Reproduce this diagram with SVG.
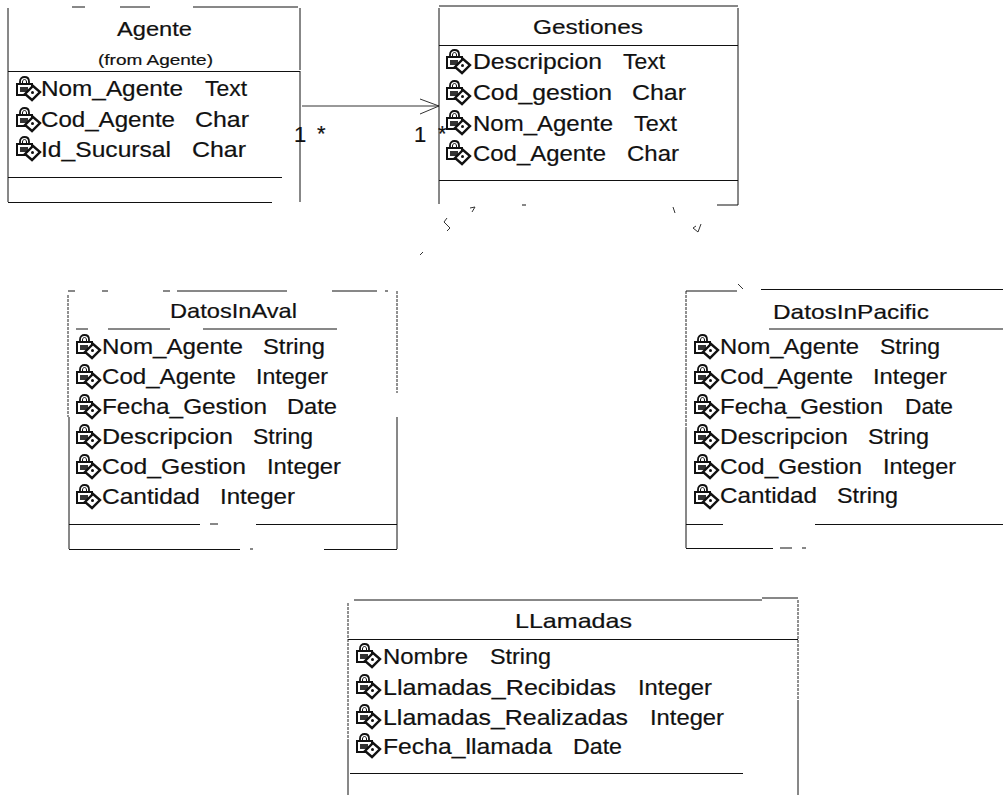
<svg xmlns="http://www.w3.org/2000/svg" width="1003" height="795" viewBox="0 0 1003 795">
<style>
text{font-family:"Liberation Sans",Arial,sans-serif;fill:#111;stroke:#111;stroke-width:.2}
.r{font-size:22px}
.t{font-size:21px}
.s{font-size:15px}
.n{font-size:22px}
.l{fill:none;stroke:#111;stroke-width:1}
.d{fill:none;stroke:#222;stroke-width:1;stroke-dasharray:3 1}
.c{fill:none;stroke:#333;stroke-width:1}
</style>
<defs>
<g id="k">
<path d="M5 8V5.500C5 2.500 7 1 9.500 1S14 2.500 14 5.500V8" fill="none" stroke="#111" stroke-width="1.800"/>
<path d="M7.500 8V6C7.500 4.500 8.300 3.500 9.500 3.500S11.500 4.500 11.500 6V8" fill="none" stroke="#111" stroke-width="1"/>
<rect x="2" y="8" width="15" height="11" fill="#fff" stroke="#111" stroke-width="2"/>
<rect x="5" y="11" width="8" height="5" fill="#333"/>
<path d="M10 18L18 10L25 16L17 24Z" fill="#fff" stroke="#111" stroke-width="2.400"/>
<circle cx="17.500" cy="16.500" r="1.500" fill="#111"/>
</g>
</defs>
<g id="connectors">
<path class="c" d="M302 106H439M420 99L439 106L420 114"/>
<path class="c" d="M447 218L444 222L450 228L447 231M472 212L475 207L470 208M420 255L423 252M673 207L675 213M696 226L693 228L698 232L701 224M738 284L743 289"/>
<text x="294" y="142" class="n">1</text>
<text x="317" y="141" class="n">*</text>
<text x="414" y="142" class="n">1</text>
<text x="438" y="141" class="n">*</text>
</g>
<g id="agente">
<path class="l" d="M72 7H85M120 7H150M193 7H298M8 8V202M300 8V70M300 71V202M8 71.500H300M8 177.500H282M8 202.500H272"/>
<text x="117" y="36" class="t" textLength="75" lengthAdjust="spacingAndGlyphs">Agente</text>
<text x="98" y="65" class="s" textLength="115" lengthAdjust="spacingAndGlyphs">(from Agente)</text>
<use href="#k" x="15" y="76"/><use href="#k" x="15" y="107"/><use href="#k" x="15" y="136"/>
<text y="96" class="r"><tspan x="41" textLength="142" lengthAdjust="spacingAndGlyphs">Nom_Agente</tspan> <tspan x="205" textLength="42" lengthAdjust="spacingAndGlyphs">Text</tspan></text>
<text y="127" class="r"><tspan x="41" textLength="134" lengthAdjust="spacingAndGlyphs">Cod_Agente</tspan> <tspan x="195" textLength="54" lengthAdjust="spacingAndGlyphs">Char</tspan></text>
<text y="157" class="r"><tspan x="41" textLength="130" lengthAdjust="spacingAndGlyphs">Id_Sucursal</tspan> <tspan x="192" textLength="54" lengthAdjust="spacingAndGlyphs">Char</tspan></text>
</g>
<g id="gestiones">
<path class="l" d="M439 6H738M439 8V204M738 8V205M439 45.500H738M439 180.500H738M522 205H526M717 205H738"/>
<text x="533" y="34" class="t" textLength="110" lengthAdjust="spacingAndGlyphs">Gestiones</text>
<use href="#k" x="445" y="49"/><use href="#k" x="445" y="80"/><use href="#k" x="445" y="110"/><use href="#k" x="445" y="140"/>
<text y="69" class="r"><tspan x="473" textLength="129" lengthAdjust="spacingAndGlyphs">Descripcion</tspan> <tspan x="623" textLength="42" lengthAdjust="spacingAndGlyphs">Text</tspan></text>
<text y="100" class="r"><tspan x="473" textLength="139" lengthAdjust="spacingAndGlyphs">Cod_gestion</tspan> <tspan x="632" textLength="54" lengthAdjust="spacingAndGlyphs">Char</tspan></text>
<text y="131" class="r"><tspan x="473" textLength="140" lengthAdjust="spacingAndGlyphs">Nom_Agente</tspan> <tspan x="634" textLength="43" lengthAdjust="spacingAndGlyphs">Text</tspan></text>
<text y="161" class="r"><tspan x="473" textLength="133" lengthAdjust="spacingAndGlyphs">Cod_Agente</tspan> <tspan x="627" textLength="52" lengthAdjust="spacingAndGlyphs">Char</tspan></text>
</g>
<g id="datosinaval">
<path class="l" d="M68 291H75M102 291H108M163 291H170M177 291H287M332 291H377M385 291H388M76 329H88M108 329H170M203 329H337M69 524.500H200M210 524H218M256 524.500H397M69 549.500H240M250 549H253M324 549.500H397M69 417V549M397 417V549"/>
<path class="d" d="M68 295V417M397 291V393"/>
<text x="170" y="318" class="t" textLength="127" lengthAdjust="spacingAndGlyphs">DatosInAval</text>
<use href="#k" x="75" y="334"/><use href="#k" x="75" y="364"/><use href="#k" x="75" y="394"/><use href="#k" x="75" y="424"/><use href="#k" x="75" y="454"/><use href="#k" x="75" y="484"/>
<text y="354" class="r"><tspan x="102" textLength="141" lengthAdjust="spacingAndGlyphs">Nom_Agente</tspan> <tspan x="263" textLength="62" lengthAdjust="spacingAndGlyphs">String</tspan></text>
<text y="384" class="r"><tspan x="102" textLength="134" lengthAdjust="spacingAndGlyphs">Cod_Agente</tspan> <tspan x="256" textLength="72" lengthAdjust="spacingAndGlyphs">Integer</tspan></text>
<text y="414" class="r"><tspan x="102" textLength="165" lengthAdjust="spacingAndGlyphs">Fecha_Gestion</tspan> <tspan x="287" textLength="50" lengthAdjust="spacingAndGlyphs">Date</tspan></text>
<text y="444" class="r"><tspan x="102" textLength="131" lengthAdjust="spacingAndGlyphs">Descripcion</tspan> <tspan x="253" textLength="60" lengthAdjust="spacingAndGlyphs">String</tspan></text>
<text y="474" class="r"><tspan x="102" textLength="144" lengthAdjust="spacingAndGlyphs">Cod_Gestion</tspan> <tspan x="267" textLength="74" lengthAdjust="spacingAndGlyphs">Integer</tspan></text>
<text y="504" class="r"><tspan x="102" textLength="98" lengthAdjust="spacingAndGlyphs">Cantidad</tspan> <tspan x="220" textLength="75" lengthAdjust="spacingAndGlyphs">Integer</tspan></text>
</g>
<g id="datosinpacific">
<path class="l" d="M686 291H737M761 289.500H1003M769 329H1003M686 524.500H723M815 524.500H1003M686 548.500H773M780 548H792M802 548H806M686 430V548"/>
<path class="d" d="M686 291V430"/>
<text x="773" y="319" class="t" textLength="156" lengthAdjust="spacingAndGlyphs">DatosInPacific</text>
<use href="#k" x="693" y="334"/><use href="#k" x="693" y="364"/><use href="#k" x="693" y="394"/><use href="#k" x="693" y="424"/><use href="#k" x="693" y="454"/><use href="#k" x="693" y="484"/>
<text y="354" class="r"><tspan x="720" textLength="139" lengthAdjust="spacingAndGlyphs">Nom_Agente</tspan> <tspan x="880" textLength="60" lengthAdjust="spacingAndGlyphs">String</tspan></text>
<text y="384" class="r"><tspan x="720" textLength="133" lengthAdjust="spacingAndGlyphs">Cod_Agente</tspan> <tspan x="873" textLength="74" lengthAdjust="spacingAndGlyphs">Integer</tspan></text>
<text y="414" class="r"><tspan x="720" textLength="163" lengthAdjust="spacingAndGlyphs">Fecha_Gestion</tspan> <tspan x="905" textLength="48" lengthAdjust="spacingAndGlyphs">Date</tspan></text>
<text y="444" class="r"><tspan x="720" textLength="128" lengthAdjust="spacingAndGlyphs">Descripcion</tspan> <tspan x="868" textLength="61" lengthAdjust="spacingAndGlyphs">String</tspan></text>
<text y="474" class="r"><tspan x="720" textLength="142" lengthAdjust="spacingAndGlyphs">Cod_Gestion</tspan> <tspan x="883" textLength="73" lengthAdjust="spacingAndGlyphs">Integer</tspan></text>
<text y="503" class="r"><tspan x="720" textLength="97" lengthAdjust="spacingAndGlyphs">Cantidad</tspan> <tspan x="837" textLength="61" lengthAdjust="spacingAndGlyphs">String</tspan></text>
</g>
<g id="llamadas">
<path class="l" d="M354 600H762M762 598H798M348 639.500H798M350 773.500H743M798 700V795M348 740V795"/>
<path class="d" d="M348 603V740M798 600V700"/>
<text x="515" y="628" class="t" textLength="117" lengthAdjust="spacingAndGlyphs">LLamadas</text>
<use href="#k" x="355" y="643"/><use href="#k" x="355" y="674"/><use href="#k" x="355" y="704"/><use href="#k" x="355" y="733"/>
<text y="664" class="r"><tspan x="383" textLength="85" lengthAdjust="spacingAndGlyphs">Nombre</tspan> <tspan x="490" textLength="61" lengthAdjust="spacingAndGlyphs">String</tspan></text>
<text y="695" class="r"><tspan x="383" textLength="233" lengthAdjust="spacingAndGlyphs">Llamadas_Recibidas</tspan> <tspan x="638" textLength="74" lengthAdjust="spacingAndGlyphs">Integer</tspan></text>
<text y="725" class="r"><tspan x="383" textLength="245" lengthAdjust="spacingAndGlyphs">Llamadas_Realizadas</tspan> <tspan x="650" textLength="74" lengthAdjust="spacingAndGlyphs">Integer</tspan></text>
<text y="754" class="r"><tspan x="383" textLength="169" lengthAdjust="spacingAndGlyphs">Fecha_llamada</tspan> <tspan x="573" textLength="49" lengthAdjust="spacingAndGlyphs">Date</tspan></text>
</g>
</svg>
